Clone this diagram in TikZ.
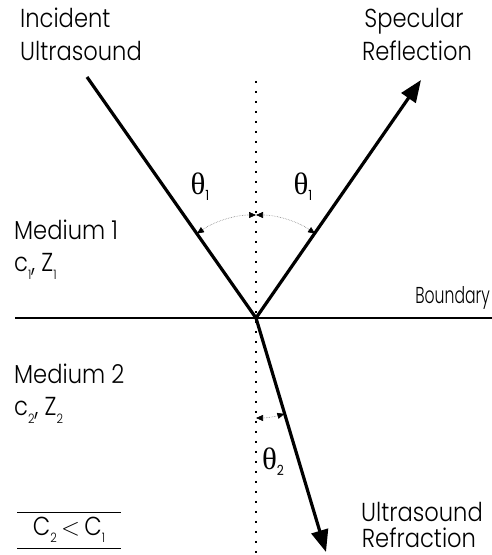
\documentclass[tikz,border=0pt]{standalone}
\usepackage{fontspec}
\IfFontExistsTF{Poppins Light}{%
  \setmainfont{Poppins Light}[FakeStretch=0.87]%
  \newfontfamily\narrowfont{Poppins Light}[FakeStretch=0.68]}{%
  \setmainfont{Poppins}[FakeStretch=0.87]%
  \newfontfamily\narrowfont{Poppins}[FakeStretch=0.68]}
\newfontfamily\thetafont{Liberation Serif}
\usetikzlibrary{arrows.meta}
\newcommand{\sbs}[1]{\raisebox{-0.28em}{\fontsize{13}{13}\selectfont #1}}
\newcommand{\tsb}[1]{\raisebox{-0.2em}{\fontsize{14}{14}\selectfont\fontspec{Poppins}[FakeStretch=0.87] #1}}
\begin{document}
\begin{tikzpicture}[x=1pt,y=1pt,
  lbl/.style={inner sep=0pt, font=\fontsize{26}{26}\selectfont},
  smalllbl/.style={inner sep=0pt, font=\narrowfont\fontsize{23}{23}\selectfont},
  ray/.style={line width=3.2pt},
  bigtip/.style={-{Triangle[length=22pt,width=17pt]}},
  boundline/.style={line width=1.8pt},
  normal/.style={line width=1.6pt, dash pattern=on 1.6pt off 8.4pt},
  anglearc/.style={gray, line width=0.6pt, densely dotted, {Triangle[length=7pt,width=6pt,color=black,fill=black]}-{Triangle[length=7pt,width=6pt,color=black,fill=black]}},
  thlbl/.style={inner sep=0pt, font=\thetafont\fontsize{31}{31}\selectfont}]
\useasboundingbox (0,0) rectangle (492,555);
% geometry
\coordinate (V) at (256,237);
\coordinate (I) at (87,478);
\coordinate (R) at (421,475);
\coordinate (T) at (326,3);
\coordinate (D1) at (256,474);
\coordinate (D2) at (256,0);
\coordinate (B1) at (15,237);
\coordinate (B2) at (492,237);
% normal and boundary
\draw[normal] (D1) -- (D2);
\draw[boundline] (B1) -- (B2);
% rays
\draw[ray] (I) -- (V);
\draw[ray,bigtip] (V) -- (R);
\draw[ray,bigtip] (V) -- (T);
% angle arcs
\draw[anglearc] ([shift={(90:103)}]V) arc[start angle=90,end angle=125,radius=103];
\draw[anglearc] ([shift={(90:103)}]V) arc[start angle=90,end angle=55,radius=103];
\draw[anglearc] ([shift={(270:100)}]V) arc[start angle=270,end angle=286.5,radius=100];
% theta labels
\node[thlbl] (th1l) at (200,368) {θ\tsb{1}};
\node[thlbl] (th1r) at (303,368) {θ\tsb{1}};
\node[thlbl] (th2) at (273,93) {θ\tsb{2}};
% text labels
\node[lbl,anchor=base west] (inc1) at (20,527) {Incident};
\node[lbl,anchor=base west] (inc2) at (20,494) {Ultrasound};
\node[lbl,anchor=base] (spe1) at (414,527) {Specular};
\node[lbl,anchor=base] (spe2) at (417,494) {Reflection};
\node[lbl,anchor=base west] (med1) at (14,315) {Medium 1};
\node[lbl,anchor=base west] (cz1) at (14,283) {c\sbs{1}, Z\sbs{1}};
\node[smalllbl,anchor=base east] (bnd) at (490,251) {Boundary};
\node[lbl,anchor=base west] (med2) at (14,171) {Medium 2};
\node[lbl,anchor=base west] (cz2) at (14,139) {c\sbs{2}, Z\sbs{2}};
\node[lbl,anchor=base] (ref1) at (422,34) {Ultrasound};
\node[lbl,anchor=base] (ref2) at (419,7) {Refraction};
% inequality box
\coordinate (L1a) at (17,43);
\coordinate (L1b) at (121,43);
\coordinate (L2a) at (17,7);
\coordinate (L2b) at (121,7);
\draw[line width=0.8pt] (L1a) -- (L1b);
\draw[line width=0.8pt] (L2a) -- (L2b);
\node[lbl] (ineq) at (69,25) {C\sbs{2}\,$<$\,C\sbs{1}};
\end{tikzpicture}
\end{document}
